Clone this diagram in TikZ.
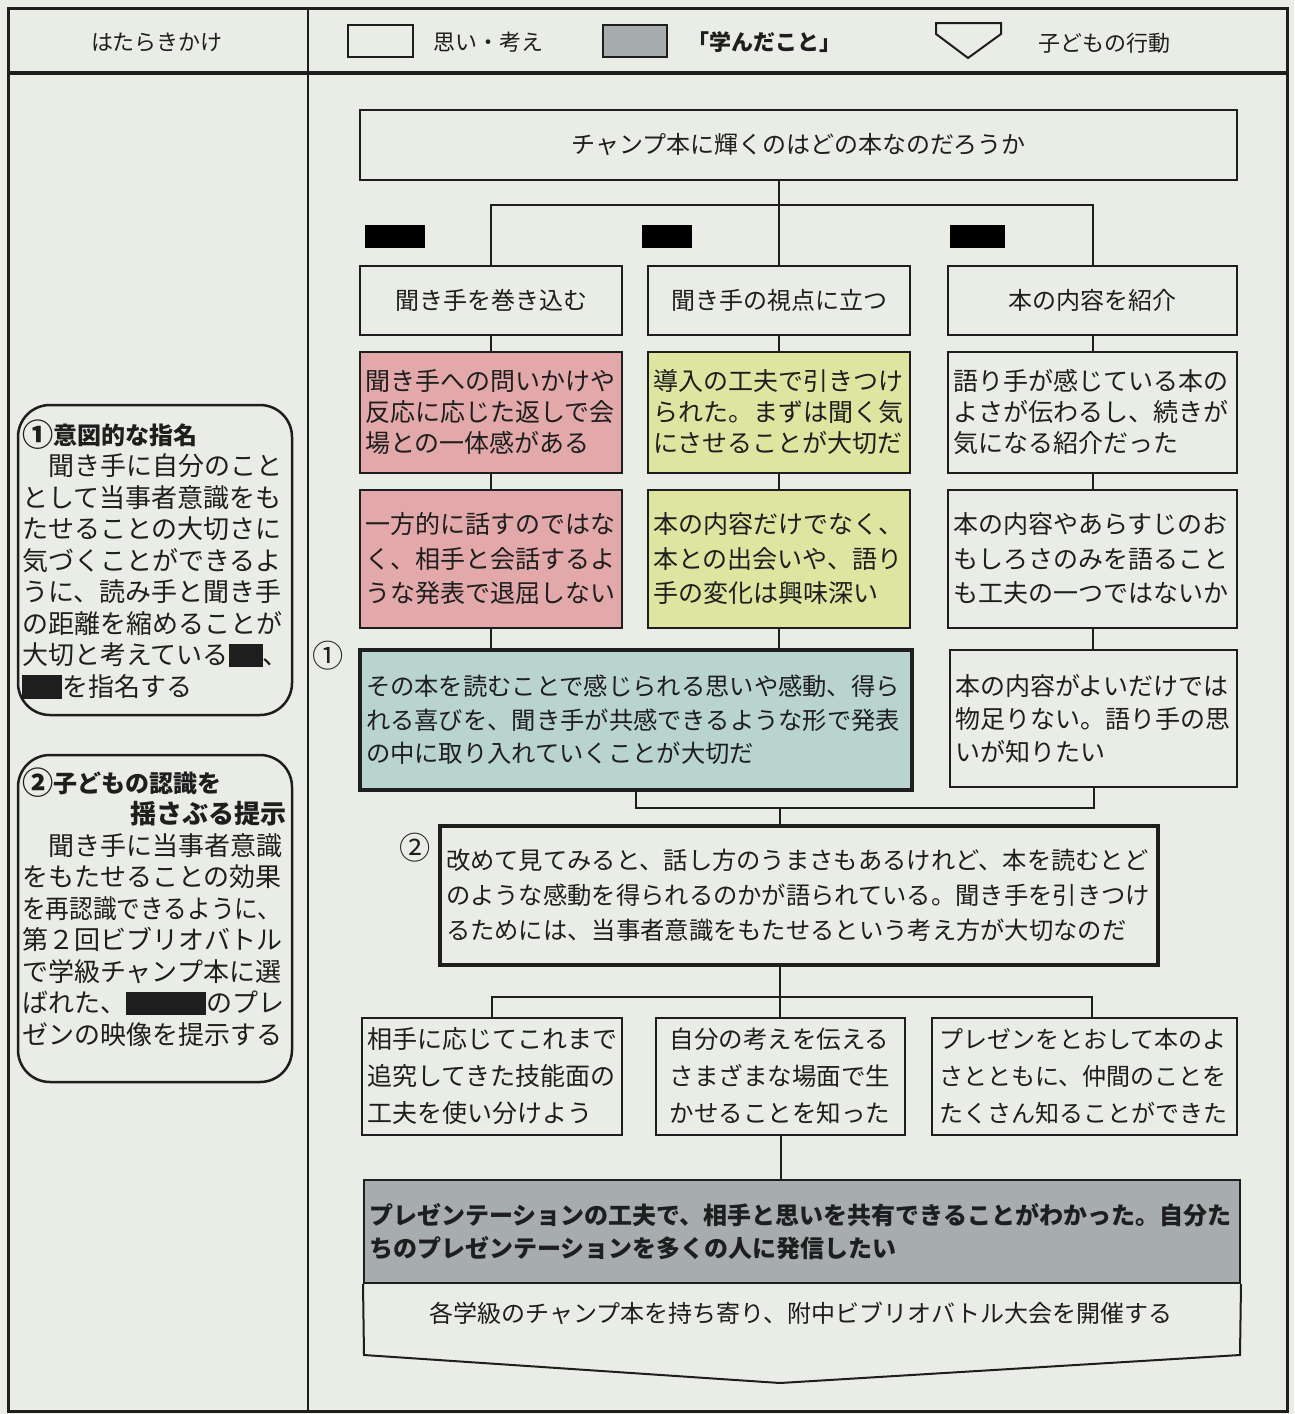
\documentclass[tikz,border=0pt]{standalone}
\usepackage{fontspec}
\setmainfont{Noto Sans CJK JP}
\usepackage{graphicx}
\usepackage{xcolor}
\usepackage{tikz}
\usetikzlibrary{positioning}

\definecolor{paper}{RGB}{234,237,230}
\definecolor{pinkbox}{RGB}{226,168,170}
\definecolor{limebox}{RGB}{221,229,160}
\definecolor{bluebox}{RGB}{185,211,207}
\definecolor{graybox}{RGB}{167,172,175}
\definecolor{ink}{RGB}{30,30,30}

\newcommand{\blot}[1]{\rule[-0.1em]{#1}{0.9em}}
\newcommand{\bignum}[1]{\raisebox{-0.12em}{\scalebox{1.3}{#1}}}

\begin{document}
\begin{tikzpicture}[x=1pt,y=-1pt,
	box/.style={draw=ink,line width=2pt,inner sep=0pt,align=left,text=ink},
	thickbox/.style={box,line width=3.5pt},
	hint/.style={draw=ink,line width=2.5pt,rounded corners=32pt,minimum width=274pt},
	link/.style={draw=ink,line width=2pt},
	blot/.style={fill=black,inner sep=0pt,minimum height=23pt},
	keyfont/.style={font=\fontsize{22}{26}\selectfont,text=ink}]
	\useasboundingbox (0,0) rectangle (1294,1414);
	\fill[paper] (0,0) rectangle (1294,1414);
	% frame of the table
	\draw[line width=3pt,ink] (8,8) rectangle (1287,1411);
	\draw[line width=4pt,ink] (8,73) -- (1287,73);
	\draw[line width=2.5pt,ink] (308,8) -- (308,1411);
	% header
	\node[keyfont] (hdr) at (157,42) {はたらきかけ};
	\node[box,minimum width=65pt,minimum height=32pt] (keyidea) at (380,41) {};
	\node[keyfont,anchor=west] (keyideatxt) at (430,42) {思い・考え};
	\node[box,fill=graybox,minimum width=64pt,minimum height=32pt] (keylearn) at (635,41) {};
	\node[keyfont,anchor=west,font=\fontsize{22}{26}\selectfont\bfseries] (keylearntxt) at (684,42) {「学んだこと」};
	\draw[link] (936,23) -- (936,34) -- (968,58) -- (1001,34) -- (1001,23) -- cycle;
	\node[keyfont,anchor=west] (keyacttxt) at (1035,43) {子どもの行動};
	% left column
	\node[hint,minimum height=310pt] (hint1) at (155,560) {};
	\node[anchor=north west,inner sep=0pt,align=left,text width=264pt,text=ink,font=\fontsize{26}{31.5}\selectfont] (hint1txt) at (22,420) {{\fontsize{24}{31.5}\selectfont\bfseries \bignum{①}意図的な指名}\\
	　聞き手に自分のこと\\
	として当事者意識をも\\
	たせることの大切さに\\
	気づくことができるよ\\
	うに、読み手と聞き手\\
	の距離を縮めることが\\
	大切と考えている\blot{34pt}、\\
	\blot{40pt}を指名する};
	\node[hint,minimum height=327pt] (hint2) at (155,918.5) {};
	\node[anchor=north west,inner sep=0pt,align=left,text width=264pt,text=ink,font=\fontsize{26}{31.5}\selectfont] (hint2txt) at (22,768) {{\fontsize{24}{31.5}\selectfont\bfseries \bignum{②}子どもの認識を}\\
	\mbox{}\hfill\textbf{揺さぶる提示}\\
	　聞き手に当事者意識\\
	をもたせることの効果\\
	\scalebox{0.91}[1]{を再認識できるように、}\\
	第２回ビブリオバトル\\
	で学級チャンプ本に選\\
	ばれた、\blot{80pt}のプレ\\
	ゼンの映像を提示する};
	% question
	\node[box,minimum width=877pt,minimum height=70pt,font=\fontsize{24}{30}\selectfont] (q) at (798.5,145) {チャンプ本に輝くのはどの本なのだろうか};
	\node[blot,minimum width=60pt] (k1) at (395,236.5) {};
	\node[blot,minimum width=50pt] (k2) at (667,236.5) {};
	\node[blot,minimum width=55pt] (k3) at (977.5,236.5) {};
	% three views
	\node[box,minimum width=262pt,minimum height=69pt,font=\fontsize{24}{30}\selectfont] (hA) at (491,300.5) {聞き手を巻き込む};
	\node[box,minimum width=262pt,minimum height=69pt,font=\fontsize{24}{30}\selectfont] (hB) at (779,300.5) {聞き手の視点に立つ};
	\node[box,minimum width=289pt,minimum height=69pt,font=\fontsize{24}{30}\selectfont] (hC) at (1092.5,300.5) {本の内容を紹介};
	\node[box,fill=pinkbox,minimum width=262pt,minimum height=121pt,text width=252pt,font=\fontsize{25}{31}\selectfont] (pA) at (491,412.5) {聞き手への問いかけや\\反応に応じた返しで会\\場との一体感がある};
	\node[box,fill=limebox,minimum width=262pt,minimum height=121pt,text width=252pt,font=\fontsize{25}{31}\selectfont] (pB) at (779,412.5) {導入の工夫で引きつけ\\られた。まずは聞く気\\にさせることが大切だ};
	\node[box,minimum width=289pt,minimum height=121pt,text width=279pt,font=\fontsize{25}{31}\selectfont] (pC) at (1092.5,412.5) {語り手が感じている本の\\よさが伝わるし、続きが\\気になる紹介だった};
	\node[box,fill=pinkbox,minimum width=262pt,minimum height=138pt,text width=252pt,font=\fontsize{25}{34.5}\selectfont] (rA) at (491,559) {一方的に話すのではな\\く、相手と会話するよ\\うな発表で退屈しない};
	\node[box,fill=limebox,minimum width=262pt,minimum height=138pt,text width=252pt,font=\fontsize{25}{34.5}\selectfont] (rB) at (779,559) {本の内容だけでなく、\\本との出会いや、語り\\手の変化は興味深い};
	\node[box,minimum width=289pt,minimum height=138pt,text width=279pt,font=\fontsize{25}{34.5}\selectfont] (rC) at (1092.5,559) {本の内容やあらすじのお\\もしろさのみを語ること\\も工夫の一つではないか};
	\node[thickbox,fill=bluebox,minimum width=552pt,minimum height=140pt,text width=540pt,font=\fontsize{24.3}{33.5}\selectfont] (blue) at (636,720) {その本を読むことで感じられる思いや感動、得ら\\れる喜びを、聞き手が共感できるような形で発表\\の中に取り入れていくことが大切だ};
	\node[box,minimum width=287pt,minimum height=137pt,text width=277pt,font=\fontsize{25}{33}\selectfont] (want) at (1093.5,718.5) {本の内容がよいだけでは\\物足りない。語り手の思\\いが知りたい};
	\node[font=\fontsize{24}{24}\selectfont,text=ink] (m1) at (328,656) {\bignum{①}};
	\node[thickbox,minimum width=718pt,minimum height=139pt,text width=706pt,font=\fontsize{24.3}{35}\selectfont] (real) at (799,895.5) {改めて見てみると、話し方のうまさもあるけれど、本を読むとど\\のような感動を得られるのかが語られている。聞き手を引きつけ\\るためには、当事者意識をもたせるという考え方が大切なのだ};
	\node[font=\fontsize{24}{24}\selectfont,text=ink] (m2) at (415,848) {\bignum{②}};
	\node[box,minimum width=260pt,minimum height=117pt,text width=250pt,font=\fontsize{25}{37}\selectfont] (lA) at (492,1076.5) {相手に応じてこれまで\\追究してきた技能面の\\工夫を使い分けよう};
	\node[box,minimum width=249pt,minimum height=117pt,text width=222pt,font=\fontsize{24.5}{37}\selectfont] (lB) at (780.5,1076.5) {自分の考えを伝える\\さまざまな場面で生\\かせることを知った};
	\node[box,minimum width=305pt,minimum height=117pt,text width=290pt,font=\fontsize{24}{37}\selectfont] (lC) at (1084.5,1076.5) {プレゼンをとおして本のよ\\さとともに、仲間のことを\\たくさん知ることができた};
	\node[box,fill=graybox,minimum width=876pt,minimum height=103pt,text width=866pt,font=\fontsize{24}{33}\selectfont\bfseries] (lesson) at (802,1231.5) {プレゼンテーションの工夫で、相手と思いを共有できることがわかった。自分た\\ちのプレゼンテーションを多くの人に発信したい};
	\draw[link] (lesson.south west) -- (364,1355) -- (780,1383) -- (1240,1355) -- (lesson.south east);
	\node[font=\fontsize{24}{30}\selectfont,text=ink] (act) at (801,1313) {各学級のチャンプ本を持ち寄り、附中ビブリオバトル大会を開催する};
	% connectors
	\coordinate (fork1) at (780,205);
	\draw[link] (hB.north |- q.south) -- (hB.north);
	\draw[link] (hA.north) |- (fork1) -| (hC.north);
	\draw[link] (hA.south) -- (pA.north);
	\draw[link] (hB.south) -- (pB.north);
	\draw[link] (hC.south) -- (pC.north);
	\draw[link] (pA.south) -- (rA.north);
	\draw[link] (pB.south) -- (rB.north);
	\draw[link] (pC.south) -- (rC.north);
	\draw[link] (rA.south) -- (rA.south |- blue.north);
	\draw[link] (rB.south) -- (rB.south |- blue.north);
	\draw[link] (rC.south) -- (rC.south |- want.north);
	\coordinate (fork2) at (780,808);
	\draw[link] (blue.south) |- (fork2) -| (want.south);
	\draw[link] (fork2) -- (fork2 |- real.north);
	\coordinate (fork3) at (780,997);
	\coordinate (fork3r) at (1092,997);
	\draw[link] (fork3 |- real.south) -- (fork3);
	\draw[link] (lA.north) |- (fork3r) -- (fork3r |- lC.north);
	\draw[link] (fork3) -- (fork3 |- lB.north);
	\draw[link] (lB.south) -- (lB.south |- lesson.north);
\end{tikzpicture}
\end{document}
